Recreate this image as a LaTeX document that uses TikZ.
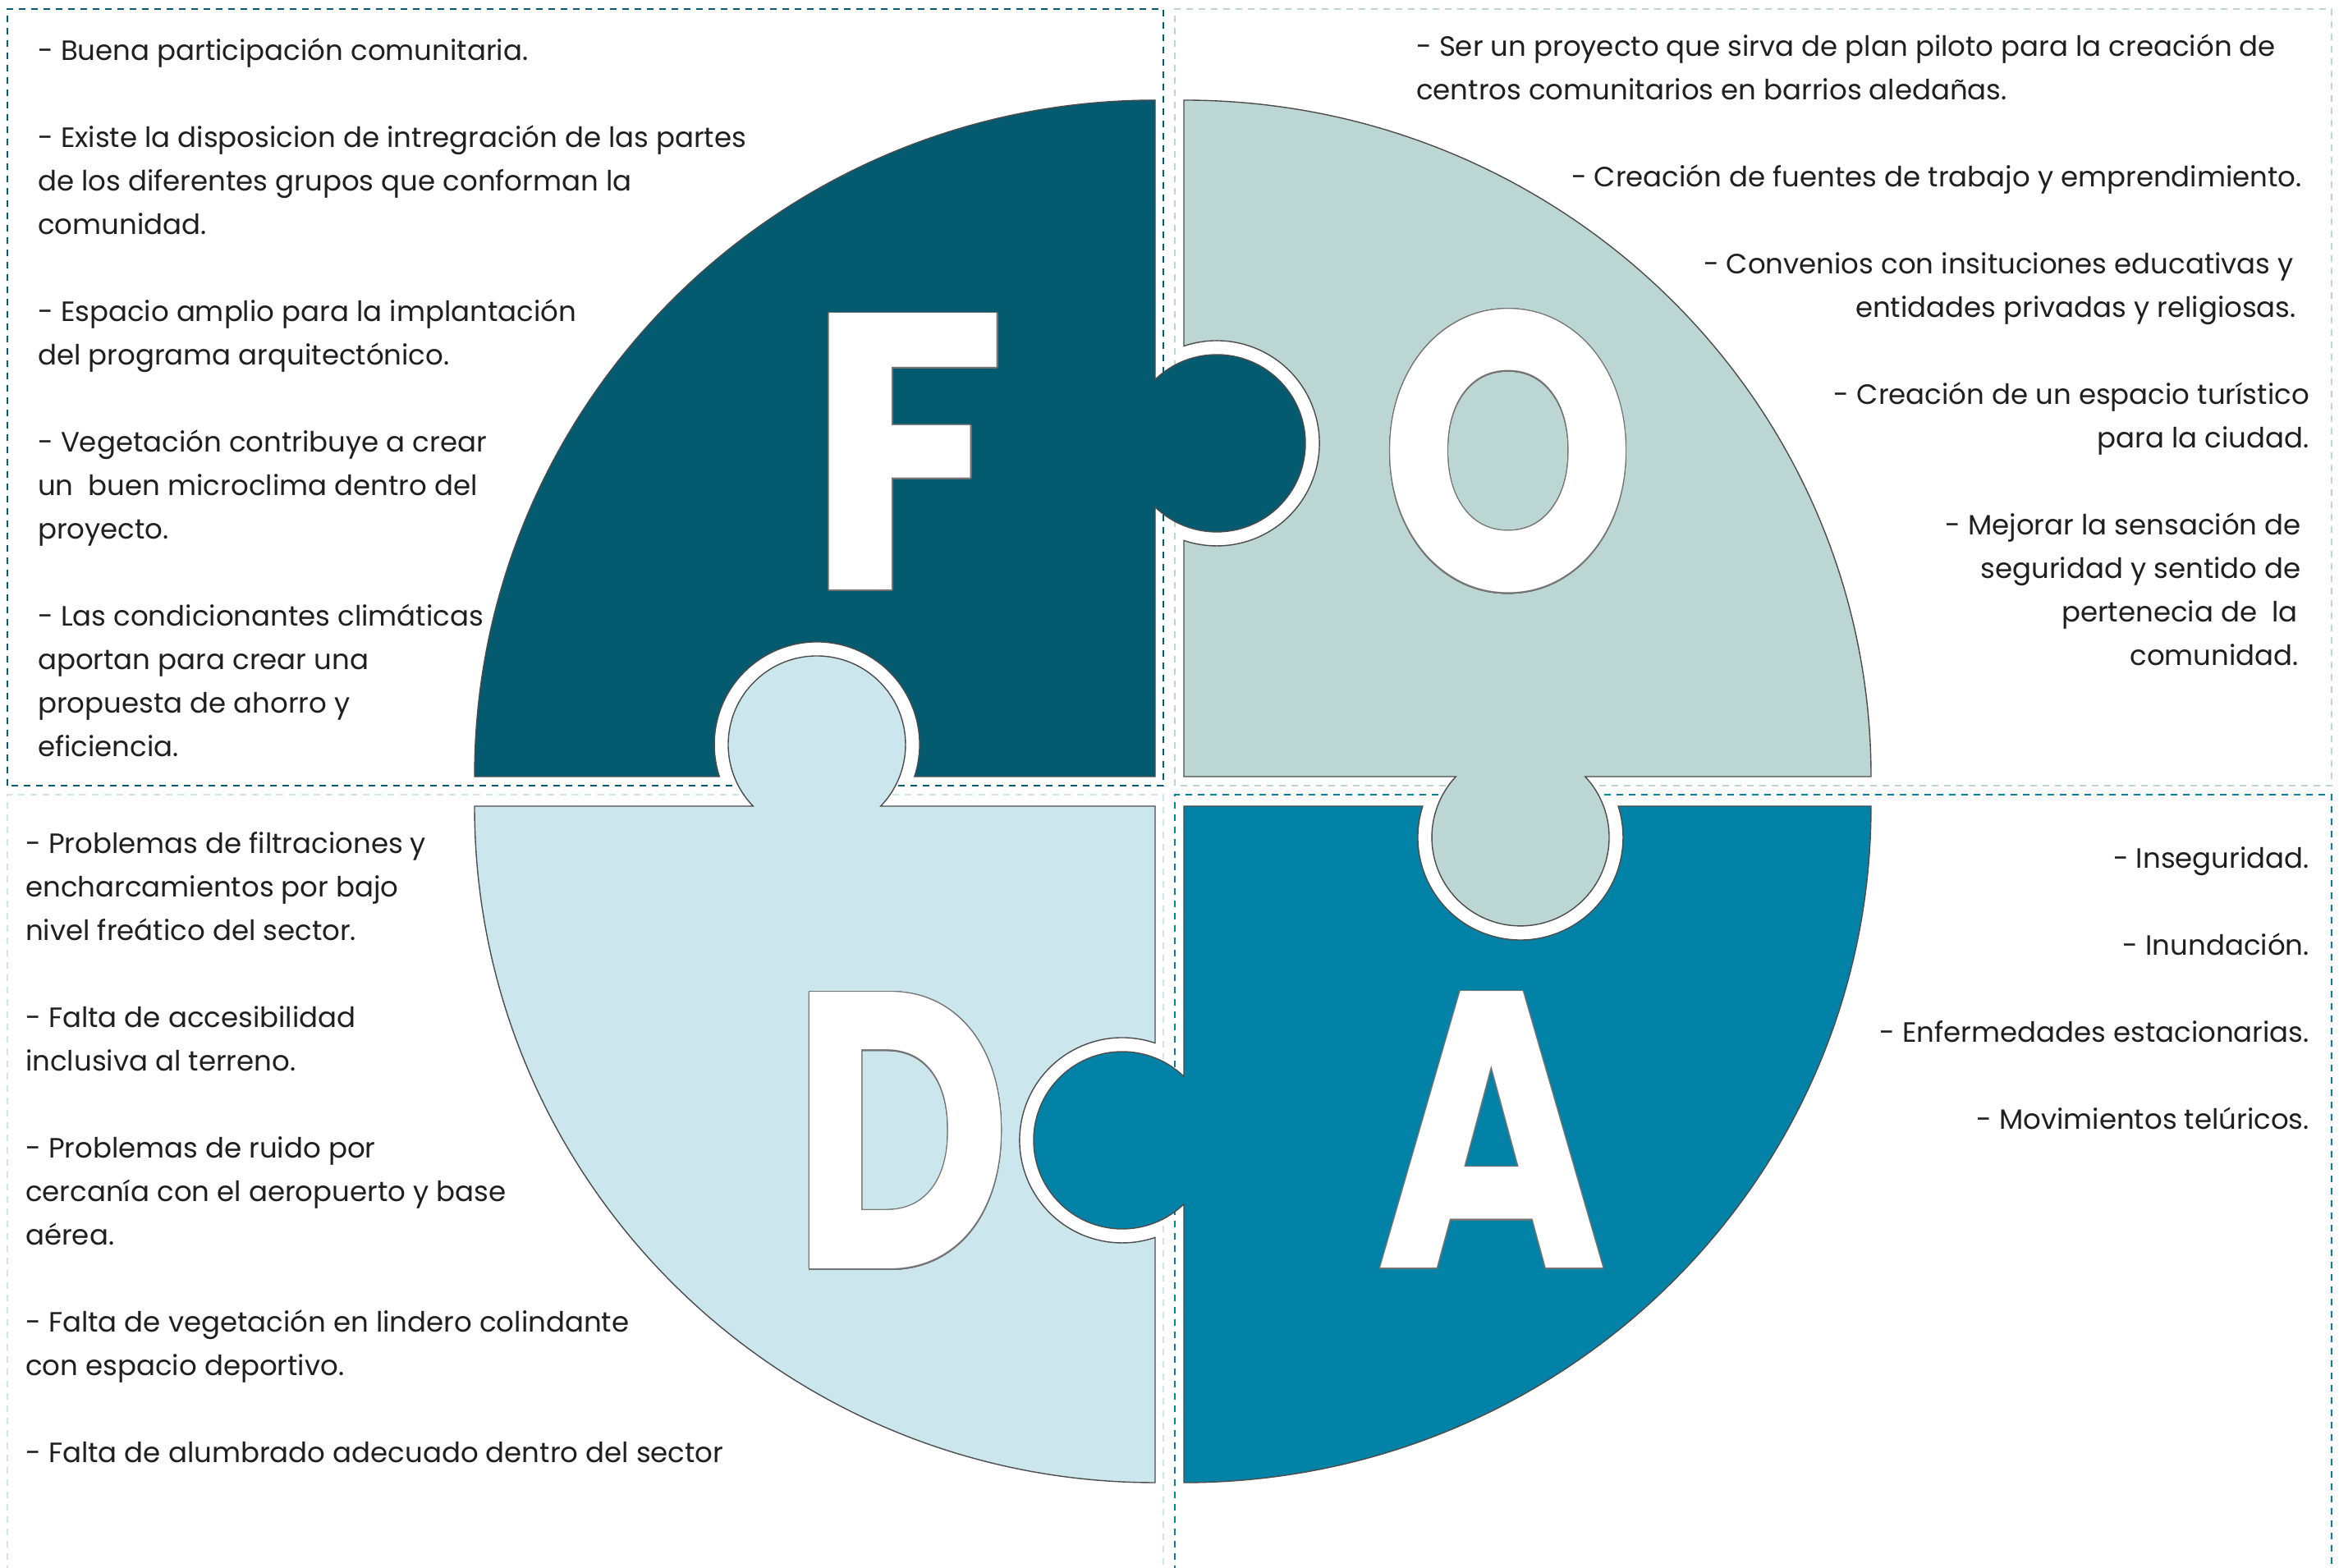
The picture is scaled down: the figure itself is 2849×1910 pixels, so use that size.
\documentclass[tikz,border=0pt]{standalone}
\usepackage{fontspec}
\setmainfont{Poppins}
\usepackage[copies]{contour}
\contourlength{1.6pt}
\definecolor{cF}{HTML}{045A6E}
\definecolor{cO}{HTML}{BCD6D3}
\definecolor{cD}{HTML}{CBE7ED}
\definecolor{cA}{HTML}{0382A8}
\tikzset{
  piece/.style={draw=black!70, line width=1.4},
  dbox/.style={dash pattern=on 8 off 7, line width=2.5},
  txt/.style={inner sep=0, font=\fontsize{34}{40}\selectfont, text=black!88},
  lettr/.style={inner sep=0, text=white, font=\bfseries\fontsize{480}{480}\selectfont}
}
\begin{document}
\begin{tikzpicture}[x=1pt,y=1pt]
\useasboundingbox (0,0) rectangle (2849,1910);
\clip (0,0) rectangle (2849,1910);
\fill[white] (0,0) rectangle (2849,1910);
% dashed quadrant boxes
\draw[dbox, draw=cF] (9,953) rectangle (1417,1899);
\draw[dbox, draw=cO] (1431,953) rectangle (2840,1899);
\draw[dbox, draw=cD] (9,-20) rectangle (1417,942);
\draw[dbox, draw=cA] (1431,-20) rectangle (2840,942);
% puzzle pieces
\filldraw[piece, fill=cF] (578,964) arc[start angle=180, end angle=90, x radius=829, y radius=824]
  -- (1407,1447.7) arc[start angle=134, end angle=-134, radius=108]
  -- (1407,964) -- (1113.8,964) arc[start angle=-18.2, end angle=198.2, radius=125] -- cycle;
\filldraw[piece, fill=cO] (1442,1788) -- (1442,1488.4) arc[start angle=108.7, end angle=-108.7, radius=125]
  -- (1442,964) -- (1773.3,964) arc[start angle=136.8, end angle=403.2, radius=108]
  -- (2279,964) arc[start angle=0, end angle=90, x radius=837, y radius=824] -- cycle;
\filldraw[piece, fill=cA] (1442,104) -- (1442,443.3) arc[start angle=-46, end angle=-314, radius=108]
  -- (1442,928) -- (1732.9,928) arc[start angle=162.3, end angle=377.7, radius=125]
  -- (2279,928) arc[start angle=0, end angle=-90, x radius=837, y radius=824] -- cycle;
\filldraw[piece, fill=cD] (578,928) -- (917.3,928) arc[start angle=224, end angle=-44, radius=108]
  -- (1407,928) -- (1407,639.4) arc[start angle=71.3, end angle=288.7, radius=125]
  -- (1407,104) arc[start angle=-90, end angle=-180, x radius=829, y radius=824] -- cycle;
% big letters
\node[lettr, anchor=base] (LF) at (1105,1191) {\scalebox{0.93}[1]{\contour{black!55}{F}}};
\node[lettr, anchor=base] (LO) at (1837,1191) {\scalebox{0.83}[1]{\contour{black!55}{O}}};
\node[lettr, anchor=base] (LD) at (1098,364) {\scalebox{0.77}[1]{\contour{black!55}{D}}};
\node[lettr, anchor=base] (LA) at (1817,365) {\scalebox{0.8}[1]{\contour{black!55}{A}}};
% F texts
\foreach \k/\t in {0/{- Buena participación comunitaria.},
  2/{- Existe la disposicion de intregración de las partes},
  3/{de los diferentes grupos que conforman la},
  4/{comunidad.},
  6/{- Espacio amplio para la implantación},
  7/{del programa arquitectónico.},
  9/{- Vegetación contribuye a crear},
  10/{un~~buen microclima dentro del},
  11/{proyecto.},
  13/{- Las condicionantes climáticas},
  14/{aportan para crear una},
  15/{propuesta de ahorro y},
  16/{eficiencia.}}
  \node[txt, anchor=base west] (tF\k) at (46,{1836-53*\k}) {\t};
% O texts
\foreach \k/\t in {0/{- Ser un proyecto que sirva de plan piloto para la creación de},
  1/{centros comunitarios en barrios aledañas.}}
  \node[txt, anchor=base west] (tO\k) at (1725,{1841-53*\k}) {\t};
\foreach \k/\x/\t in {3/2804/{- Creación de fuentes de trabajo y emprendimiento.},
  5/2794/{- Convenios con insituciones educativas y},
  6/2797/{entidades privadas y religiosas.},
  8/2813/{- Creación de un espacio turístico},
  9/2813/{para la ciudad.},
  11/2803/{- Mejorar la sensación de},
  12/2803/{seguridad y sentido de},
  13/2799/{pertenecia de~~la},
  14/2800/{comunidad.}}
  \node[txt, anchor=base east] (tO\k) at (\x,{1841-53*\k}) {\t};
% D texts
\foreach \k/\t in {0/{- Problemas de filtraciones y},
  1/{encharcamientos por bajo},
  2/{nivel freático del sector.},
  4/{- Falta de accesibilidad},
  5/{inclusiva al terreno.},
  7/{- Problemas de ruido por},
  8/{cercanía con el aeropuerto y base},
  9/{aérea.},
  11/{- Falta de vegetación en lindero colindante},
  12/{con espacio deportivo.},
  14/{- Falta de alumbrado adecuado dentro del sector}}
  \node[txt, anchor=base west] (tD\k) at (31,{870-53*\k}) {\t};
% A texts
\foreach \k/\t in {0/{- Inseguridad.},
  1/{- Inundación.},
  2/{- Enfermedades estacionarias.},
  3/{- Movimientos telúricos.}}
  \node[txt, anchor=base east] (tA\k) at (2813,{852-106*\k}) {\t};
\end{tikzpicture}
\end{document}
